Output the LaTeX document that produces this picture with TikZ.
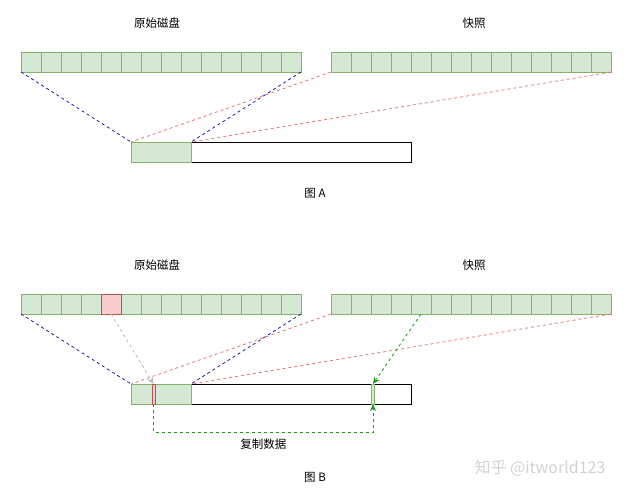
\documentclass[tikz,border=0pt]{standalone}
\usepackage{fontspec}
\setmainfont{Noto Sans CJK SC}
\usetikzlibrary{arrows.meta,calc}
\definecolor{cellfill}{HTML}{D5E8D4}
\definecolor{celldraw}{HTML}{82B366}
\definecolor{hitfill}{HTML}{F8CECC}
\definecolor{hitdraw}{HTML}{B85450}
\definecolor{origline}{HTML}{1A1A99}
\definecolor{snapline}{HTML}{E57373}
\definecolor{copyline}{HTML}{1E9A1E}
\definecolor{oldline}{HTML}{B8B8B8}

\tikzset{
  cell/.style={draw=celldraw, fill=cellfill, line width=0.8pt, minimum width=20pt,
    minimum height=20pt, inner sep=0pt, outer sep=0pt, anchor=north west},
  hitcell/.style={cell, draw=hitdraw, fill=hitfill},
  volume/.style={draw=black, line width=0.9pt, minimum width=280pt, minimum height=20pt,
    inner sep=0pt, outer sep=0pt, anchor=north west},
  slot/.style={line width=0.8pt, minimum width=3pt, minimum height=20pt,
    inner sep=0pt, outer sep=0pt, anchor=north west},
  title/.style={font=\fontsize{11.5}{14}\selectfont, text=black},
  origmap/.style={origline, line width=0.8pt, dash pattern=on 3pt off 3pt},
  snapmap/.style={snapline, line width=0.8pt, dash pattern=on 3pt off 3pt},
  copymap/.style={copyline, line width=0.8pt, dash pattern=on 3pt off 3pt, -{Stealth[length=7pt,width=6pt]}}
}

\begin{document}
\begin{tikzpicture}[x=1pt, y=-1pt]
  \useasboundingbox (0,0) rectangle (633,495);

  % both figures share the disks and the volume
  \foreach \fig/\dy/\cy in {A/0/193, B/242/477} {
    \node[title] (origtitle-\fig) at (157,23+\dy) {原始磁盘};
    \node[title] (snaptitle-\fig) at (474,23+\dy) {快照};

    \foreach \i in {1,...,14} {
      \node[cell] (orig-\fig-\i) at ({21+20*(\i-1)},52+\dy) {};
      \node[cell] (snap-\fig-\i) at ({331+20*(\i-1)},52+\dy) {};
    }

    % volume with its used part
    \node[volume] (vol-\fig) at (131,142+\dy) {};
    \node[cell, minimum width=60pt] (used-\fig) at (131,142+\dy) {};

    % mapping
    \draw[origmap] (orig-\fig-1.south west) -- (used-\fig.north west);
    \draw[origmap] (orig-\fig-14.south east) -- (used-\fig.north east);
    \draw[snapmap] (snap-\fig-1.south west) -- (used-\fig.north west);
    \draw[snapmap] (snap-\fig-14.south east) -- (used-\fig.north east);

    \node[title] (caption-\fig) at (315,\cy) {图 \fig};
  }

  % figure B: block changed, old data copied
  \node[hitcell] (hit) at (101,294) {};
  \node[slot, draw=hitdraw, fill=hitfill] (oldslot) at (152,384) {};
  \node[slot, draw=celldraw, fill=cellfill] (newslot) at (371.5,384) {};

  \draw[oldline, line width=0.8pt, dash pattern=on 3pt off 3pt, -{Stealth[length=7pt,width=6pt]}]
    (hit.south) -- (oldslot.north);
  \draw[copymap] (snap-B-5.south) -- (newslot.north);
  \draw[copymap] (oldslot.south) -- ++(0,28) -| (newslot.south)
    node[title, pos=0.25, below=3pt] (copylabel) {复制数据};

  % watermark
  \node[font=\fontsize{16}{18}\selectfont, text=gray!35] (mark) at (540,468) {知乎 @itworld123};
\end{tikzpicture}
\end{document}
